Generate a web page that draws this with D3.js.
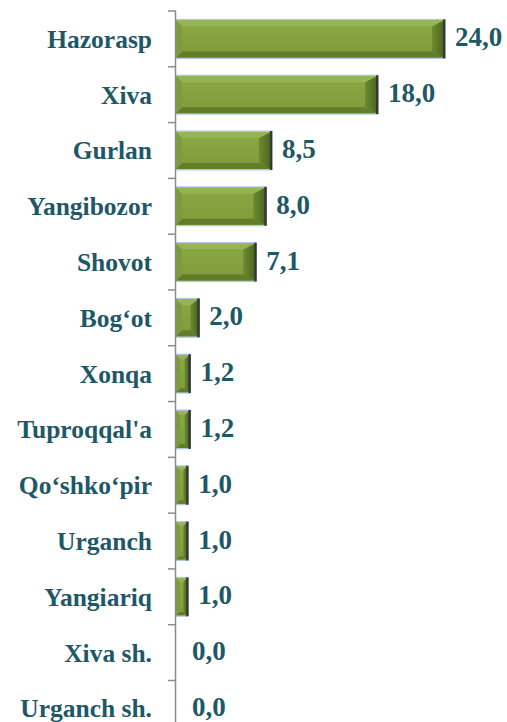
<!DOCTYPE html>
<html><head><meta charset="utf-8">
<script src="https://cdn.jsdelivr.net/npm/d3@7"></script>
<style>body{margin:0;background:#fff} text{font-family:"Liberation Serif","Times New Roman",Lato,sans-serif;font-weight:bold}</style>
</head><body>
<svg id="c" width="507" height="722"></svg>
<script>
const categories = ["Hazorasp","Xiva","Gurlan","Yangibozor","Shovot","Bog‘ot","Xonqa","Tuproqqal'a","Qo‘shko‘pir","Urganch","Yangiariq","Xiva sh.","Urganch sh."];
const values = [24.0,18.0,8.5,8.0,7.1,2.0,1.2,1.2,1.0,1.0,1.0,0.0,0.0];
const valueLabels = ["24,0","18,0","8,5","8,0","7,1","2,0","1,2","1,2","1,0","1,0","1,0","0,0","0,0"];

const svg = d3.select("#c");
const x0 = 176;
const x = d3.scaleLinear().domain([0,24]).range([x0,444]);
const y = d3.scaleBand().domain(categories).range([11,736.3]).paddingInner(0.283).paddingOuter(0.1415);
const txt = "#1e5867";

const defs = svg.append("defs");
const g = defs.append("linearGradient").attr("id","gc").attr("x1",0).attr("y1",0).attr("x2",0).attr("y2",1);
g.append("stop").attr("offset","0%").attr("stop-color","#8aa944");
g.append("stop").attr("offset","100%").attr("stop-color","#7d9b3a");
const gr = defs.append("linearGradient").attr("id","gr").attr("x1",0).attr("y1",0).attr("x2",1).attr("y2",0);
gr.append("stop").attr("offset","0%").attr("stop-color","#6e8a30");
gr.append("stop").attr("offset","100%").attr("stop-color","#4c6420");

categories.forEach((c,i)=>{
  const v = values[i];
  const bx = x0, by = y(c)+1.5, bw = x(v)-x0, bh = y.bandwidth()-3;
  if (bw <= 0) return;
  const gg = svg.append("g");
  const bt = Math.min(6, bw*0.3), br = Math.min(12, bw*0.35);
  gg.append("rect").attr("x",bx).attr("y",by-1.5).attr("width",bw).attr("height",bh+3).attr("fill","#b2c6e2");
  gg.append("rect").attr("x",bx).attr("y",by).attr("width",bw).attr("height",bh).attr("fill","url(#gc)");
  gg.append("polygon").attr("points",[[bx,by],[bx+bw,by],[bx+bw-br,by+bt],[bx+bt,by+bt]].join(" ")).attr("fill","#96b452");
  gg.append("polygon").attr("points",[[bx,by+bh],[bx+bw,by+bh],[bx+bw-br,by+bh-bt],[bx+bt,by+bh-bt]].join(" ")).attr("fill","#627d2a");
  gg.append("polygon").attr("points",[[bx,by],[bx+bt,by+bt],[bx+bt,by+bh-bt],[bx,by+bh]].join(" ")).attr("fill","#7d9b3b");
  gg.append("polygon").attr("points",[[bx+bw,by],[bx+bw-br,by+bt],[bx+bw-br,by+bh-bt],[bx+bw,by+bh]].join(" ")).attr("fill","url(#gr)");
  gg.append("rect").attr("x",bx+bw-1).attr("y",by-1).attr("width",2.5).attr("height",bh+2).attr("fill","#2f3a38");
});

const axis = svg.append("g");
axis.append("line").attr("x1",x0-0.5).attr("x2",x0-0.5).attr("y1",11).attr("y2",722).attr("stroke","#8c8c8c").attr("stroke-width",1.5);
d3.range(categories.length).forEach(i=>{
  const ty = 11 + i*y.step();
  axis.append("line").attr("x1",x0-8).attr("x2",x0).attr("y1",ty).attr("y2",ty).attr("stroke","#8c8c8c").attr("stroke-width",1.5);
});

svg.selectAll("text.cat").data(categories).join("text").attr("class","cat")
  .attr("x",152).attr("y",d=>y(d)+y.bandwidth()/2).attr("dy","0.35em")
  .attr("text-anchor","end").attr("font-size",25.5).attr("fill",txt).text(d=>d);

svg.selectAll("text.val").data(categories).join("text").attr("class","val")
  .attr("x",(d,i)=>values[i]>0 ? x(values[i])+11 : 192).attr("y",d=>y(d)+y.bandwidth()/2).attr("dy","0.28em")
  .attr("font-size",27).attr("fill",txt).text((d,i)=>valueLabels[i]);
</script>
</body></html>
